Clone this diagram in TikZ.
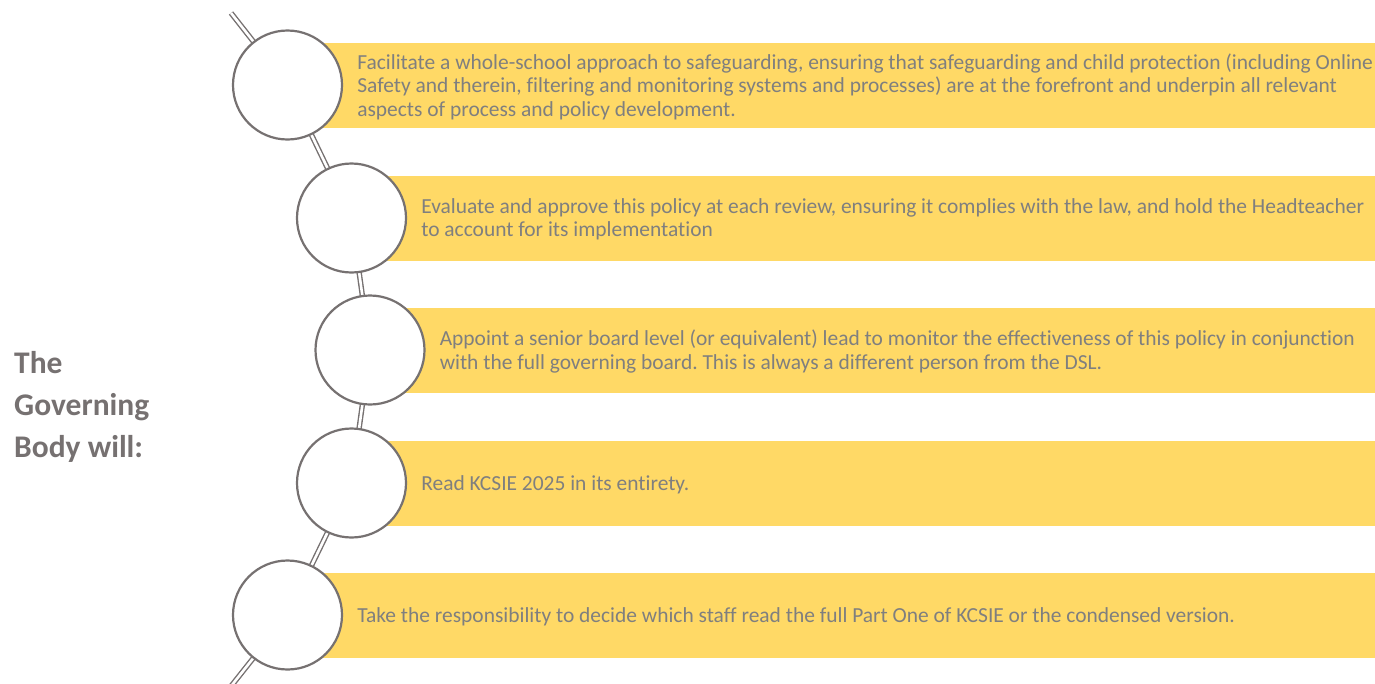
\documentclass[tikz,border=0pt]{standalone}
\usepackage{fontspec}
\setmainfont{Carlito}[Ligatures=CommonOff]
\frenchspacing
\usetikzlibrary{positioning}
\definecolor{bargold}{HTML}{FFD966}
\definecolor{textgray}{HTML}{7F7F7F}
\definecolor{ringgray}{HTML}{767171}

\begin{document}
\begin{tikzpicture}[x=1pt,y=-1pt,
	bar/.style={fill=bargold,minimum height=85pt,inner sep=0pt,outer sep=0pt,anchor=west},
	ring/.style={circle,draw=ringgray,line width=2.2pt,fill=white,minimum size=109pt,inner sep=0pt},
	rail/.style={draw=ringgray,line width=1.4pt,double=white,double distance=2.6pt},
	item/.style={anchor=west,align=left,text=textgray,inner sep=0pt,yshift=-1.5pt,font=\fontsize{21.45}{23.5}\selectfont},]
	\useasboundingbox (0,0) rectangle (1375,683);
	\clip (0,0) rectangle (1375,683);

	% yellow bands, each starting under its circle
	\node[bar,minimum width=1090pt] (b1) at (287.5,85) {};
	\node[bar,minimum width=1026pt] (b2) at (351.5,218) {};
	\node[bar,minimum width=1008pt] (b3) at (370,350) {};
	\node[bar,minimum width=1026pt] (b4) at (351.5,483) {};
	\node[bar,minimum width=1090pt] (b5) at (287.5,615) {};

	% the double rail the circles hang on
	\coordinate (top) at (231,13);
	\coordinate (bot) at (228,690);
	\draw[rail] (top) -- (b1.west) -- (b2.west) -- (b3.west) -- (b4.west) -- (b5.west) -- (bot);

	\node[ring] (c1) at (b1.west) {}; \node[ring] (c2) at (b2.west) {}; \node[ring] (c3) at (b3.west) {};
	\node[ring] (c4) at (b4.west) {}; \node[ring] (c5) at (b5.west) {};

	\node[item,right=14pt of c1] (t1) {Facilitate a whole-school approach to safeguarding, ensuring that safeguarding and child protection (including Online\\Safety and therein, filtering and monitoring systems and processes) are at the forefront and underpin all relevant\\aspects of process and policy development.};
	\node[item,right=14pt of c2] (t2) {Evaluate and approve this policy at each review, ensuring it complies with the law, and hold the Headteacher\\to account for its implementation};
	\node[item,right=14pt of c3] (t3) {Appoint a senior board level (or equivalent) lead to monitor the effectiveness of this policy in conjunction\\with the full governing board. This is always a different person from the DSL.};
	\node[item,right=14pt of c4] (t4) {Read KCSIE 2025 in its entirety.};
	\node[item,right=14pt of c5] (t5) {Take the responsibility to decide which staff read the full Part One of KCSIE or the condensed version.};

	\node[anchor=west,align=left,text=ringgray,inner sep=0pt,font=\fontsize{31.5}{42}\bfseries] (title) at (14,407) {The\\Governing\\Body will:};
\end{tikzpicture}
\end{document}
